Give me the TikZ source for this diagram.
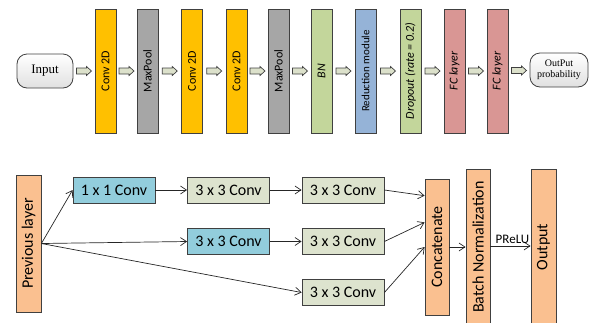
\documentclass[tikz,border=0pt]{standalone}
\usepackage{fontspec}
\setmainfont{Carlito}
\newfontfamily\capserif{Liberation Serif}
\usetikzlibrary{arrows.meta,calc}
\definecolor{convY}{HTML}{FFC000}
\definecolor{poolG}{HTML}{A6A6A6}
\definecolor{bnG}{HTML}{C3D69B}
\definecolor{redB}{HTML}{95B3D7}
\definecolor{fcR}{HTML}{D99694}
\definecolor{peach}{HTML}{FAC090}
\definecolor{cyanB}{HTML}{92CDDC}
\definecolor{olive}{HTML}{DDE3CE}
\definecolor{blkfill}{HTML}{DCE1CB}
\definecolor{edge}{HTML}{404040}
\newcommand{\blkarrow}[3]{%
  \coordinate (#3) at ($(#1.east)!0.5!(#2.west)$);
  \draw[blockarrow] ([shift={(-7.5,-3)}]#3) -- ([shift={(2.5,-3)}]#3) -- ([shift={(2.5,-4.5)}]#3)
    -- ([shift={(7.5,0)}]#3) -- ([shift={(2.5,4.5)}]#3) -- ([shift={(2.5,3)}]#3) -- ([shift={(-7.5,3)}]#3) -- cycle;}
\begin{document}
\begin{tikzpicture}[x=1pt,y=-1pt,
  layerbox/.style={draw=edge, line width=0.8pt, minimum width=21pt, minimum height=124pt, inner sep=0pt,
    font=\fontsize{12}{12}\selectfont},
  roundbox/.style={draw=edge, line width=0.8pt, rounded corners=10pt, top color=white, bottom color=black!12,
    inner sep=0pt, minimum height=34pt, align=center},
  blockarrow/.style={draw=edge, line width=0.7pt, fill=blkfill},
  convbox/.style={draw=edge, line width=0.8pt, minimum width=82pt, minimum height=26pt, inner sep=0pt,
    font=\fontsize{16}{16}\selectfont},
  tallbox/.style={draw=edge, line width=0.8pt, fill=peach, minimum width=25pt, inner sep=0pt,
    font=\fontsize{16}{16}\selectfont},
  conn/.style={draw=black!85, line width=0.7pt, -{Straight Barb[length=6pt,width=8pt]}}
]
\useasboundingbox (0,0) rectangle (593,322);
% ---- top row ----
\node[roundbox, minimum width=56pt, font=\capserif\fontsize{13}{13}\selectfont] (inp) at (45,71) {Input};
\node[layerbox, fill=convY] (c1) at (105.5,71) {\rotatebox{90}{Conv 2D}};
\node[layerbox, fill=poolG] (m1) at (147.5,71) {\rotatebox{90}{MaxPool}};
\node[layerbox, fill=convY] (c2) at (192,71) {\rotatebox{90}{Conv 2D}};
\node[layerbox, fill=convY] (c3) at (236.5,71) {\rotatebox{90}{Conv 2D}};
\node[layerbox, fill=poolG] (m2) at (278.5,71) {\rotatebox{90}{MaxPool}};
\node[layerbox, fill=bnG] (bn) at (321.5,71) {\rotatebox{90}{\itshape BN}};
\node[layerbox, fill=redB, font=\fontsize{11}{11}\selectfont] (rd) at (365.5,71) {\rotatebox{90}{Reduction module}};
\node[layerbox, fill=bnG] (dp) at (410.5,71) {\rotatebox{90}{\itshape Dropout (rate = 0.2)}};
\node[layerbox, fill=fcR] (f1) at (454.5,71) {\rotatebox{90}{\itshape FC layer}};
\node[layerbox, fill=fcR] (f2) at (497.5,71) {\rotatebox{90}{\itshape FC layer}};
\node[roundbox, minimum width=58pt, font=\capserif\fontsize{10}{11}\selectfont] (outp) at (559,70) {OutPut\\probability};
\blkarrow{inp}{c1}{ba1}
\blkarrow{c1}{m1}{ba2}
\blkarrow{m1}{c2}{ba3}
\blkarrow{c2}{c3}{ba4}
\blkarrow{c3}{m2}{ba5}
\blkarrow{m2}{bn}{ba6}
\blkarrow{bn}{rd}{ba7}
\blkarrow{rd}{dp}{ba8}
\blkarrow{dp}{f1}{ba9}
\blkarrow{f1}{f2}{ba10}
\blkarrow{f2}{outp}{ba11}
% ---- bottom: reduction module ----
\node[tallbox, minimum height=137pt] (prev) at (28.5,243.5) {\rotatebox{90}{Previous layer}};
\node[convbox, fill=cyanB] (k1) at (114,190) {1 x 1 Conv};
\node[convbox, fill=olive] (a1) at (228.5,190) {3 x 3 Conv};
\node[convbox, fill=cyanB] (b1) at (228.5,241.5) {3 x 3 Conv};
\node[convbox, fill=olive] (a2) at (343,190) {3 x 3 Conv};
\node[convbox, fill=olive] (a3) at (343,241.5) {3 x 3 Conv};
\node[convbox, fill=olive] (a4) at (343,292.5) {3 x 3 Conv};
\node[tallbox, minimum width=24pt, minimum height=136pt] (cat) at (437,247) {\rotatebox{90}{Concatenate}};
\node[tallbox, minimum width=24pt, minimum height=156pt] (bnorm) at (478,247) {\rotatebox{90}{Batch Normalization}};
\node[tallbox, minimum width=25pt, minimum height=156pt] (outn) at (543.5,247) {\rotatebox{90}{Output}};
\draw[conn] (prev.east) -- (k1.west);
\draw[conn] (prev.east) -- (b1.west);
\draw[conn] (prev.east) -- (a4.west);
\draw[conn] (k1.east) -- (a1.west);
\draw[conn] (a1.east) -- (a2.west);
\draw[conn] (b1.east) -- (a3.west);
\draw[conn] (a2.east) -- ($(cat.north west)!0.125!(cat.south west)$);
\draw[conn] (a3.east) -- ($(cat.north west)!0.32!(cat.south west)$);
\draw[conn] (a4.east) -- (cat.west);
\draw[conn] (cat.east) -- (cat.east -| bnorm.west);
\draw[conn] ($(bnorm.east)+(0,-1)$) -- node[above=-1pt, pos=0.55, font=\fontsize{13}{13}\selectfont] {PReLU} ($(outn.west)+(0,-1)$);
\end{tikzpicture}
\end{document}
